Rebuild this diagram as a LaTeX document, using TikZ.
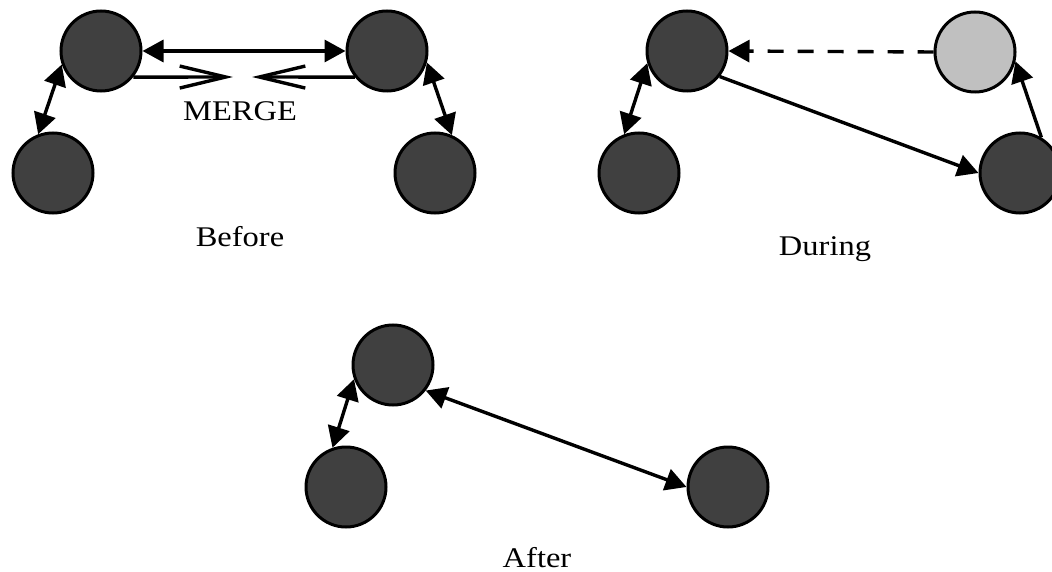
\documentclass[tikz,border=0pt]{standalone}
\usepackage{fontspec}
\setmainfont{Liberation Serif}[FakeStretch=1.14]
\usetikzlibrary{arrows.meta}
\definecolor{peerfill}{HTML}{404040}
\definecolor{ghostfill}{HTML}{C0C0C0}

\begin{document}
\begin{tikzpicture}[>={Triangle[length=21pt,width=22pt]},
  peer/.style={circle, draw=black, line width=3pt, fill=peerfill,
               minimum size=80pt, inner sep=0pt},
  ghost/.style={peer, fill=ghostfill},
  link/.style={line width=3.4pt},
  merge/.style={line width=3.4pt, -{Straight Barb[length=46pt,width=22pt]}},
  caption/.style={anchor=base, font=\fontsize{28.5pt}{32pt}\selectfont}]
\useasboundingbox (0,0) rectangle (1052pt,-572pt);

  % before
  \node[peer] (btl) at (101pt,-51pt) {};
  \node[peer] (btr) at (387pt,-51pt) {};
  \node[peer] (bbl) at (53pt,-173pt) {};
  \node[peer] (bbr) at (435pt,-173pt) {};
  \coordinate (mergeL) at (233pt,-77pt);
  \coordinate (mergeR) at (252pt,-77pt);
  \draw[link,<->] (btl.east) -- (btr.west);
  \draw[link,<->] (btl.199) -- (bbl.111);
  \draw[link,<->] (btr.-16) -- (bbr.66);
  \draw[merge] (btl.-39) -- (mergeL);
  \draw[merge] (btr.219) -- (mergeR);
  \node[caption] (mergetxt) at (240pt,-121pt) {MERGE};
  \node[caption] (before) at (240pt,-247pt) {Before};

  % during
  \node[peer]  (dtl) at (687pt,-51pt) {};
  \node[ghost] (dgh) at (975pt,-52pt) {};
  \node[peer]  (dbl) at (639pt,-173pt) {};
  \node[peer]  (dbr) at (1020pt,-173pt) {};
  \draw[link,->,dash pattern=on 16pt off 14pt] (dgh.west) -- (dtl.east);
  \draw[link,->] (dtl.-38) -- (dbr.west);
  \draw[link,->] (dbr.59) -- (dgh.-13);
  \draw[link,<->] (dtl.197) -- (dbl.111);
  \node[caption] (during) at (825pt,-255pt) {During};

  % after
  \node[peer] (atl) at (393pt,-365pt) {};
  \node[peer] (abl) at (346pt,-487pt) {};
  \node[peer] (abr) at (728pt,-487pt) {};
  \draw[link,<->] (atl.200) -- (abl.109);
  \draw[link,<->] (atl.-38) -- (abr.west);
  \node[caption] (after) at (537pt,-567pt) {After};

\end{tikzpicture}
\end{document}
